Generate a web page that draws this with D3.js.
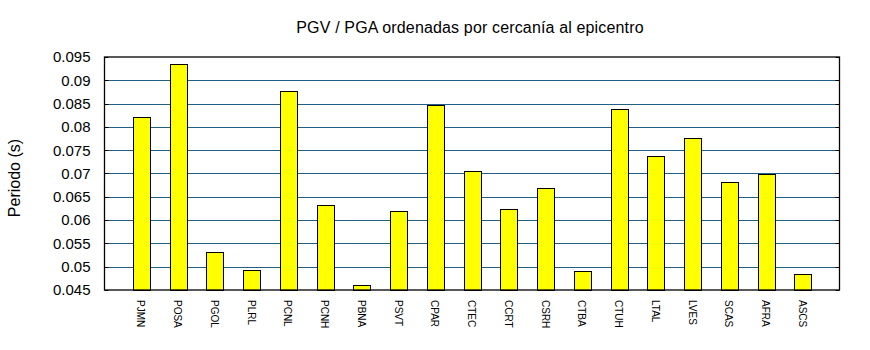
<!DOCTYPE html>
<html>
<head>
<meta charset="utf-8">
<script src="https://cdn.jsdelivr.net/npm/d3@7"></script>
<style>
  html, body { margin: 0; padding: 0; background: #fff; }
  svg { display: block; font-family: "Liberation Sans", Arial, sans-serif; }
</style>
</head>
<body>
<svg id="chart" width="870" height="350"></svg>
<script>
// Stations ordered by distance to the epicentre
const stations = ["PJMN","POSA","PGOL","PLRL","PCNL","PCNH","PBNA","PSVT","CPAR","CTEC",
                  "CCRT","CSRH","CTBA","CTUH","LTAL","LVES","SCAS","AFRA","ASCS"];
// PGV / PGA period (s)
const periods = [0.0821,0.0934,0.0531,0.0492,0.0876,0.0632,0.0460,0.0619,0.0848,0.0706,
                 0.0623,0.0668,0.0490,0.0838,0.0737,0.0776,0.0681,0.0699,0.0484];
const yTicks = [0.045,0.05,0.055,0.06,0.065,0.07,0.075,0.08,0.085,0.09,0.095];
const yTickLabels = ["0.045","0.05","0.055","0.06","0.065","0.07","0.075","0.08","0.085","0.09","0.095"];

const svg = d3.select("#chart");
const m = { left: 104.5, right: 30.5, top: 57, bottom: 60 };
const W = 870, H = 350;
const x0 = m.left, x1 = W - m.right, y0 = H - m.bottom, y1 = m.top;

// one empty slot on each side of the stations
const x = d3.scalePoint().domain(["", ...stations, " "]).range([x0, x1]).padding(0);
const barW = 17;
const y = d3.scaleLinear().domain([0.045, 0.095]).range([y0, y1]);

// horizontal grid
svg.append("g").selectAll("line")
  .data(yTicks.filter(t => t > 0.045 + 1e-9 && t < 0.095 - 1e-9))
  .join("line")
  .attr("x1", x0).attr("x2", x1)
  .attr("y1", d => Math.round(y(d)) + 0.5).attr("y2", d => Math.round(y(d)) + 0.5)
  .attr("stroke", "#235e84").attr("stroke-width", 1.2);

// bars
svg.append("g").selectAll("rect")
  .data(stations)
  .join("rect")
  .attr("x", d => Math.round(x(d) - barW / 2) + 0.5)
  .attr("width", barW)
  .attr("y", (d, i) => Math.round(y(periods[i])) + 0.5)
  .attr("height", (d, i) => y0 - Math.round(y(periods[i])))
  .attr("fill", "#ffff00").attr("stroke", "#000").attr("stroke-width", 1);

// inner tick marks on both sides
const tickG = svg.append("g");
yTicks.forEach(t => {
  const yy = Math.round(y(t)) + 0.5;
  tickG.append("line").attr("x1", x0).attr("x2", x0 + 4).attr("y1", yy).attr("y2", yy).attr("stroke", "#000");
  tickG.append("line").attr("x1", x1 - 4).attr("x2", x1).attr("y1", yy).attr("y2", yy).attr("stroke", "#000");
});

// frame
svg.append("rect")
  .attr("x", x0).attr("y", y1).attr("width", x1 - x0).attr("height", y0 - y1)
  .attr("fill", "none").attr("stroke", "#000").attr("stroke-width", 1.3);

// y tick labels
const yAxis = d3.axisLeft(y).tickValues(yTicks).tickFormat((d, i) => yTickLabels[i]).tickSize(0).tickPadding(14);
const ya = svg.append("g").attr("transform", `translate(${x0},0)`).call(yAxis);
ya.select(".domain").remove();
ya.selectAll("text").attr("font-size", 15).attr("fill", "#000")
  .attr("font-family", "'Liberation Sans', Arial, sans-serif");

// x labels, vertical
svg.append("g").selectAll("text")
  .data(stations)
  .join("text")
  .attr("transform", d => `translate(${x(d) - 4},${y0 + 10}) rotate(90)`)
  .attr("font-size", 10).attr("fill", "#000")
  .text(d => d);

// title
svg.append("text")
  .attr("x", 470).attr("y", 33).attr("text-anchor", "middle")
  .attr("font-size", 16).attr("letter-spacing", 0.15).attr("fill", "#000")
  .text("PGV / PGA ordenadas por cercanía al epicentro");

// y axis title
svg.append("text")
  .attr("transform", `translate(20,178) rotate(-90)`)
  .attr("text-anchor", "middle").attr("font-size", 16).attr("fill", "#000")
  .text("Periodo (s)");
</script>
</body>
</html>
